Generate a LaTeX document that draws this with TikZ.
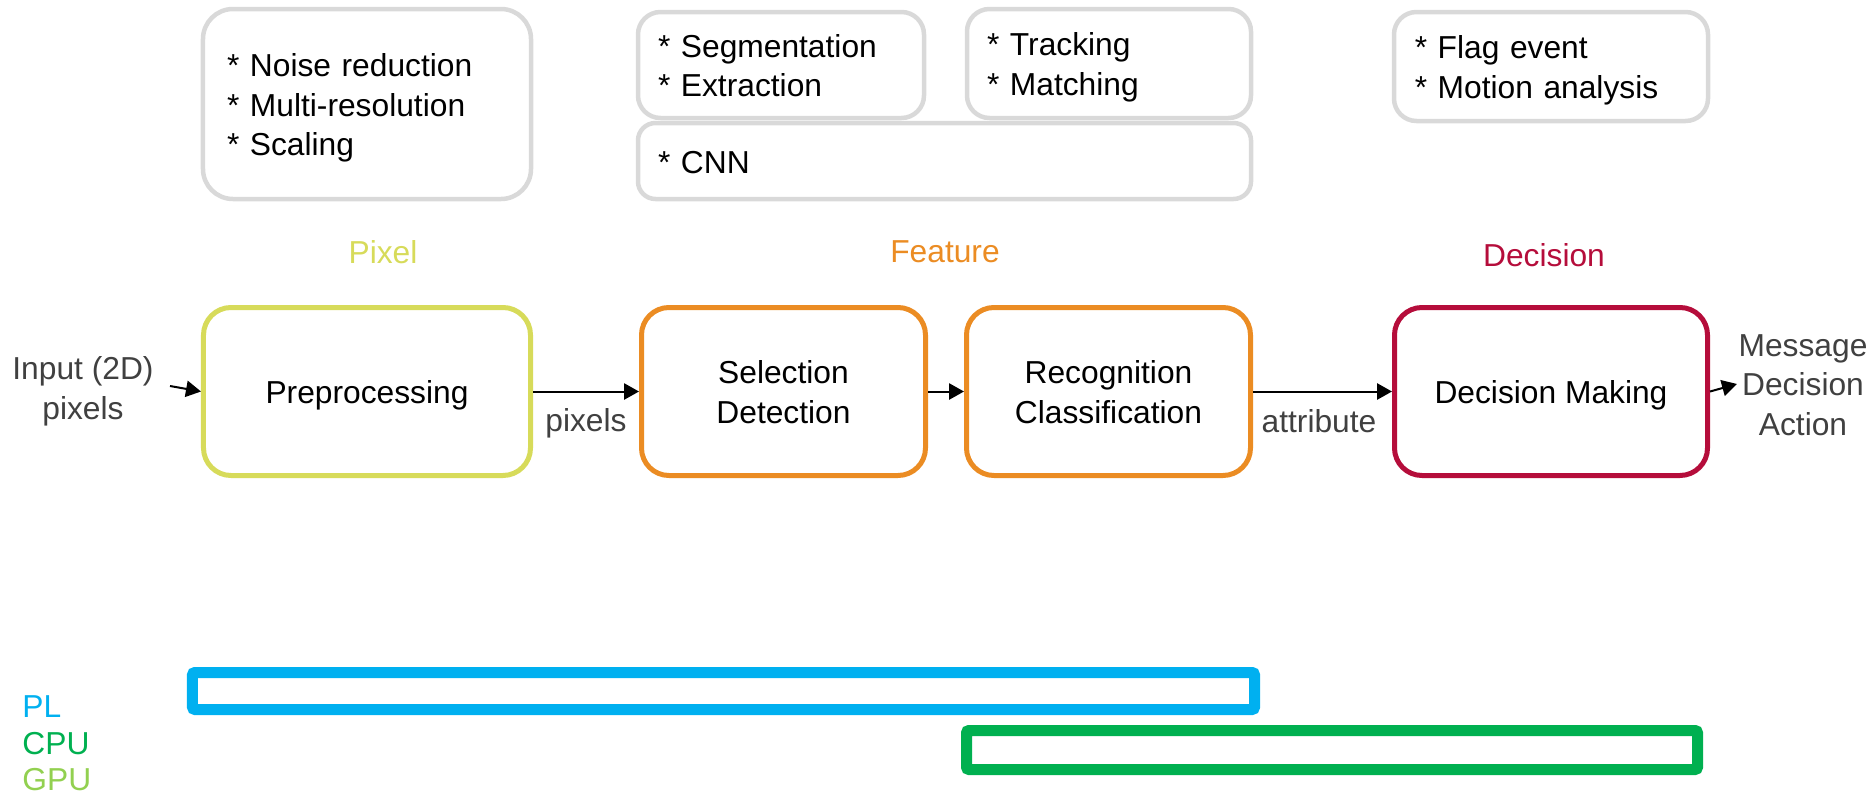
\documentclass[tikz,border=0pt]{standalone}
\usepackage{fontspec}
\setmainfont{Liberation Sans}
\usetikzlibrary{arrows.meta}
\definecolor{grayc}{RGB}{217,217,217}
\definecolor{yellowc}{RGB}{215,219,90}
\definecolor{orangec}{RGB}{235,140,35}
\definecolor{redc}{RGB}{181,13,59}
\definecolor{bluec}{RGB}{0,176,240}
\definecolor{greenc}{RGB}{0,176,80}
\definecolor{lgreenc}{RGB}{146,208,80}
\definecolor{textgray}{RGB}{64,64,64}
\newcommand\mytop{\rule{0pt}{12.6pt}}
\newcommand\mybot{\rule[-3pt]{0pt}{0pt}}
\tikzset{
  every node/.style={font=\fontsize{12.7}{15.8}\selectfont, inner sep=0pt},
  graybox/.style={draw=grayc, line width=1.8pt, rounded corners=9pt, align=left},
  mainbox/.style={line width=2pt, rounded corners=11pt, align=center, minimum height=67.2pt},
  arr/.style={line width=0.8pt, -{Triangle[length=6pt,width=6.5pt]}},
  lbl/.style={text=textgray, align=center},
  hwbar/.style={line width=4.4pt, rounded corners=1pt}
}
\begin{document}
\begin{tikzpicture}[x=0.4pt,y=-0.4pt]
\useasboundingbox (0,0) rectangle (1875,794);
% gray task boxes
\node[graybox, rounded corners=12pt, minimum width=131.2pt, minimum height=76pt, text width=112pt] (noise) at (367,104)
  {\mytop* Noise reduction\\{}* Multi-resolution\\{}* Scaling\mybot};
\node[graybox, minimum width=114.4pt, minimum height=42.4pt, text width=98.4pt] (seg) at (781,65)
  {\mytop* Segmentation\\{}* Extraction\mybot};
\node[graybox, minimum width=113.6pt, minimum height=43.6pt, text width=97.6pt] (track) at (1109,63.5)
  {\mytop* Tracking\\{}* Matching\mybot};
\node[graybox, rounded corners=7pt, minimum width=245.2pt, minimum height=30.4pt, text width=229.2pt] (cnn) at (944.5,161)
  {\mytop* CNN\mybot};
\node[graybox, minimum width=125.6pt, minimum height=43.6pt, text width=109pt] (flag) at (1551,66.5)
  {\mytop* Flag event\\{}* Motion analysis\mybot};
% level labels
\node[text=yellowc] (lpix) at (383,252) {Pixel};
\node[text=orangec] (lfeat) at (945,252) {Feature};
\node[text=redc] (ldec) at (1544,255) {Decision};
% main boxes
\node[mainbox, draw=yellowc, minimum width=130.8pt] (pre) at (367,391.5) {\mytop Preprocessing\mybot};
\node[mainbox, draw=orangec, minimum width=113.6pt] (sel) at (783.5,391.5) {\mytop Selection\\Detection\mybot};
\node[mainbox, draw=orangec, minimum width=113.6pt] (rec) at (1108.5,391.5) {\mytop Recognition\\Classification\mybot};
\node[mainbox, draw=redc, minimum width=125.2pt] (dec) at (1551,391.5) {\mytop Decision Making\mybot};
% side labels
\node[lbl] (inp) at (83,391.5) {Input (2D)\\pixels};
\node[lbl] (out) at (1803,385) {Message\\Decision\\Action};
\node[lbl] (lpx) at (586,423) {pixels};
\node[lbl] (latt) at (1319,421) {attribute};
% connectors
\coordinate (inpend) at (170,386);
\coordinate (outend) at (1737,384);
\draw[arr] (inpend) -- (pre.west);
\draw[arr] (pre.east) -- (sel.west);
\draw[arr] (sel.east) -- (rec.west);
\draw[arr] (rec.east) -- (dec.west);
\draw[arr] (dec.east) -- (outend);
% hardware bars
\node[hwbar, draw=bluec, minimum width=424.8pt, minimum height=14.8pt] (pl) at (723.5,691) {};
\node[hwbar, draw=greenc, minimum width=292.4pt, minimum height=15.6pt] (cpu) at (1332,750) {};
\node[anchor=west, text=bluec] (tpl) at (22,707) {PL};
\node[anchor=west, text=greenc] (tcpu) at (22,744) {CPU};
\node[anchor=west, text=lgreenc] (tgpu) at (22,780) {GPU};
\end{tikzpicture}
\end{document}
